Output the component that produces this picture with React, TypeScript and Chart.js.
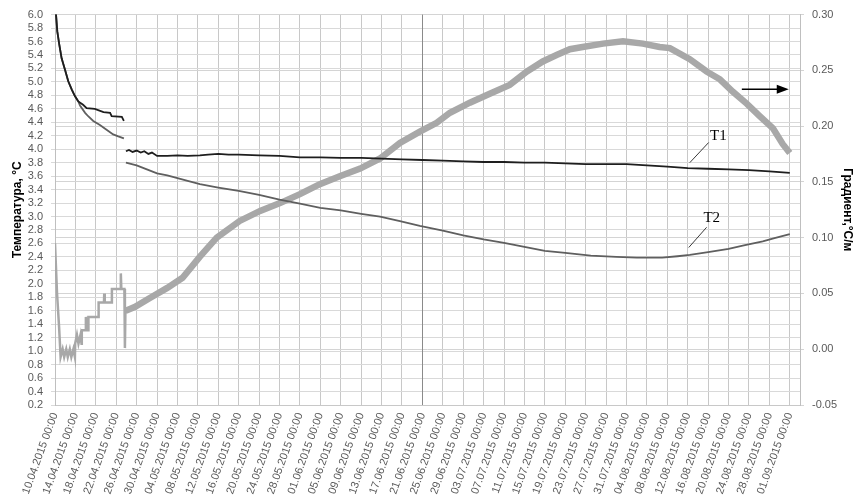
import React, { useEffect, useRef } from "react";
import { Chart, registerables } from "chart.js";

Chart.register(...registerables);

// ---- tick labels (every 4 days from 10.04.2015) ----
const dateLabels = [
  "10.04.2015 00:00", "14.04.2015 00:00", "18.04.2015 00:00", "22.04.2015 00:00",
  "26.04.2015 00:00", "30.04.2015 00:00", "04.05.2015 00:00", "08.05.2015 00:00",
  "12.05.2015 00:00", "16.05.2015 00:00", "20.05.2015 00:00", "24.05.2015 00:00",
  "28.05.2015 00:00", "01.06.2015 00:00", "05.06.2015 00:00", "09.06.2015 00:00",
  "13.06.2015 00:00", "17.06.2015 00:00", "21.06.2015 00:00", "25.06.2015 00:00",
  "29.06.2015 00:00", "03.07.2015 00:00", "07.07.2015 00:00", "11.07.2015 00:00",
  "15.07.2015 00:00", "19.07.2015 00:00", "23.07.2015 00:00", "27.07.2015 00:00",
  "31.07.2015 00:00", "04.08.2015 00:00", "08.08.2015 00:00", "12.08.2015 00:00",
  "16.08.2015 00:00", "20.08.2015 00:00", "24.08.2015 00:00", "28.08.2015 00:00",
  "01.09.2015 00:00",
];
const tickStepDays = 4;
const xMaxDays = 146;
const markedDay = 72; // 21.06.2015

const tempTicks = ["0.2", "0.4", "0.6", "0.8", "1.0", "1.2", "1.4", "1.6", "1.8", "2.0", "2.2", "2.4", "2.6", "2.8", "3.0", "3.2", "3.4", "3.6", "3.8", "4.0", "4.2", "4.4", "4.6", "4.8", "5.0", "5.2", "5.4", "5.6", "5.8", "6.0"];
const gradTicks = ["-0.05", "0.00", "0.05", "0.10", "0.15", "0.20", "0.25", "0.30"];

// ---- T1 (days since 10.04.2015, °C) ----
const t1EarlyDays = [0, 0.2, 0.45, 0.85, 1.3, 1.96, 2.6, 3.27, 3.9, 4.57, 5.5, 6.2, 7.8, 9.5, 10.8, 11.1, 13.1, 13.5];
const t1EarlyValues = [6.4, 6.0, 5.75, 5.55, 5.35, 5.18, 5.01, 4.89, 4.79, 4.71, 4.66, 4.61, 4.6, 4.55, 4.54, 4.49, 4.48, 4.42];
const t1Days = [13.9, 14.5, 15.2, 16, 16.8, 17.5, 18.3, 19, 20, 22, 24, 26, 28.4, 30, 32, 34, 36, 40, 44, 48, 52, 56, 60, 64, 68, 72, 76, 80, 84, 88, 92, 96, 100, 104, 108, 112, 116, 120, 124, 128, 132, 136, 140, 144];
const t1Values = [3.97, 3.99, 3.96, 3.98, 3.95, 3.97, 3.93, 3.95, 3.9, 3.9, 3.91, 3.9, 3.91, 3.92, 3.93, 3.92, 3.92, 3.91, 3.9, 3.88, 3.88, 3.87, 3.87, 3.86, 3.85, 3.84, 3.83, 3.82, 3.81, 3.81, 3.8, 3.8, 3.79, 3.78, 3.78, 3.78, 3.76, 3.74, 3.72, 3.71, 3.7, 3.69, 3.67, 3.65];

// ---- T2 (days since 10.04.2015, °C) ----
const t2EarlyDays = [0, 0.2, 0.45, 0.85, 1.3, 1.96, 2.6, 3.27, 3.9, 4.57, 4.9, 5.9, 6.5, 7.5, 8.8, 10.1, 11.4, 12.4, 13.5];
const t2EarlyValues = [6.4, 6.0, 5.75, 5.55, 5.35, 5.18, 5.01, 4.89, 4.79, 4.71, 4.65, 4.54, 4.49, 4.42, 4.36, 4.29, 4.22, 4.19, 4.16];
const t2Days = [13.9, 16, 18, 20, 22, 24, 26, 28.4, 32, 36, 40, 44, 48, 52, 56, 60, 63.7, 67.6, 71.5, 76, 80, 84, 88, 92, 96, 100, 105, 110, 114, 119, 122, 124.4, 128, 132, 135, 138.7, 141, 144];
const t2Values = [3.8, 3.76, 3.7, 3.64, 3.61, 3.57, 3.53, 3.48, 3.43, 3.38, 3.32, 3.25, 3.19, 3.13, 3.09, 3.04, 3.0, 2.93, 2.86, 2.79, 2.72, 2.66, 2.61, 2.55, 2.49, 2.46, 2.42, 2.4, 2.39, 2.39, 2.41, 2.43, 2.47, 2.52, 2.57, 2.63, 2.68, 2.74];

// ---- Gradient (days since 10.04.2015, °C/m) ----
const gradDays = [0, 0.4, 0.8, 1.1, 1.5, 1.8, 2.2, 2.5, 2.9, 3.2, 3.6, 3.9, 3.95, 4.3, 4.6, 5.0, 5.2, 5.25, 6.0, 6.05, 6.15, 6.5, 6.55, 8.5, 8.55, 9.6, 9.65, 9.75, 11.1, 11.15, 12.8, 12.9, 13.0, 13.6, 13.7, 13.8, 14.1, 15.7, 18.6, 22, 25, 28.4, 31.7, 36.2, 40.2, 44.1, 48, 51.9, 55.8, 59.8, 63.7, 67.6, 71.5, 74.8, 77.4, 81.3, 85.2, 89.1, 92.5, 95.6, 98.4, 100.9, 103.4, 107.4, 111.3, 115.2, 118.5, 120.5, 124.4, 127.7, 130.3, 132.8, 135.6, 138.1, 140.7, 142.6, 144];
const gradValues = [0.095, 0.05, 0.02, -0.007, 0.0, -0.007, 0.0, -0.007, 0.0, -0.007, 0.0, -0.007, 0.005, 0.013, 0.005, 0.013, 0.005, 0.017, 0.017, 0.029, 0.017, 0.017, 0.029, 0.029, 0.042, 0.042, 0.05, 0.042, 0.042, 0.054, 0.054, 0.068, 0.054, 0.054, 0.001, 0.035, 0.035, 0.038, 0.046, 0.055, 0.064, 0.083, 0.1, 0.115, 0.124, 0.131, 0.139, 0.148, 0.155, 0.162, 0.171, 0.185, 0.195, 0.203, 0.212, 0.221, 0.229, 0.237, 0.249, 0.258, 0.264, 0.269, 0.271, 0.274, 0.276, 0.274, 0.271, 0.27, 0.26, 0.249, 0.242, 0.231, 0.22, 0.209, 0.198, 0.184, 0.176];

// ---- annotation anchors (data units) ----
const t1Label = { x: 130, y: 4.19, leadFrom: { x: 124.4, y: 3.8 }, leadTo: { x: 128.1, y: 4.1 } };
const t2Label = { x: 128.7, y: 2.97, leadFrom: { x: 124.2, y: 2.54 }, leadTo: { x: 127.7, y: 2.84 } };
const arrowSpec = { from: 134.6, to: 143.8, level: 0.233 };

const toPts = (days: number[], vals: number[]) => days.map((d, i) => ({ x: d, y: vals[i] }));

const tickFont = { family: "'Liberation Sans', Arial, sans-serif", size: 11 };
const titleFont = { family: "'Liberation Sans', Arial, sans-serif", size: 12, weight: "bold" as const };

const markerLinePlugin = {
  id: "markerLine",
  beforeDatasetsDraw(chart: any) {
    const { ctx, scales, chartArea } = chart;
    const px = Math.round(scales.x.getPixelForValue(markedDay)) + 0.5;
    ctx.save();
    ctx.strokeStyle = "#8a8a8a";
    ctx.lineWidth = 1;
    ctx.beginPath();
    ctx.moveTo(px, chartArea.top);
    ctx.lineTo(px, chartArea.bottom);
    ctx.stroke();
    ctx.restore();
  },
};

const annotationPlugin = {
  id: "annots",
  afterDatasetsDraw(chart: any) {
    const { ctx, scales } = chart;
    const x = scales.x, y = scales.y, y1 = scales.y1;
    ctx.save();
    ctx.strokeStyle = "#3a3a3a";
    ctx.lineWidth = 1;
    for (const l of [t1Label, t2Label]) {
      ctx.beginPath();
      ctx.moveTo(x.getPixelForValue(l.leadFrom.x), y.getPixelForValue(l.leadFrom.y));
      ctx.lineTo(x.getPixelForValue(l.leadTo.x), y.getPixelForValue(l.leadTo.y));
      ctx.stroke();
    }
    ctx.fillStyle = "#000";
    ctx.font = "15px 'Liberation Serif', 'Times New Roman', serif";
    ctx.textAlign = "center";
    ctx.textBaseline = "middle";
    ctx.fillText("T1", x.getPixelForValue(t1Label.x), y.getPixelForValue(t1Label.y));
    ctx.fillText("T2", x.getPixelForValue(t2Label.x), y.getPixelForValue(t2Label.y));
    // arrow
    const ax0 = x.getPixelForValue(arrowSpec.from);
    const ax1 = x.getPixelForValue(arrowSpec.to);
    const ay = y1.getPixelForValue(arrowSpec.level);
    ctx.strokeStyle = "#000";
    ctx.lineWidth = 1.5;
    ctx.beginPath();
    ctx.moveTo(ax0, ay);
    ctx.lineTo(ax1 - 10, ay);
    ctx.stroke();
    ctx.beginPath();
    ctx.moveTo(ax1, ay);
    ctx.lineTo(ax1 - 12, ay - 4.5);
    ctx.lineTo(ax1 - 12, ay + 4.5);
    ctx.closePath();
    ctx.fill();
    ctx.restore();
  },
};

export default function App() {
  const ref = useRef<HTMLCanvasElement>(null);
  useEffect(() => {
    const canvas = ref.current;
    if (!canvas) return;
    const chart = new Chart(canvas, {
      type: "line",
      data: {
        datasets: [
          {
            label: "Градиент",
            data: toPts(gradDays, gradValues),
            yAxisID: "y1",
            borderColor: "#a8a8a8",
            borderWidth: 5,
            pointRadius: 0,
            tension: 0,
            order: 3,
            segment: {
              borderWidth: (c: any) => (c.p0.parsed.x < 13.8 ? 2.5 : 6.5),
            },
          } as any,
          {
            label: "T2",
            data: [...toPts(t2EarlyDays, t2EarlyValues), { x: 13.7, y: null }, ...toPts(t2Days, t2Values)],
            yAxisID: "y",
            borderColor: "#5f5f5f",
            borderWidth: 1.8,
            pointRadius: 0,
            tension: 0,
            spanGaps: false,
            order: 2,
          } as any,
          {
            label: "T1",
            data: [...toPts(t1EarlyDays, t1EarlyValues), { x: 13.7, y: null }, ...toPts(t1Days, t1Values)],
            yAxisID: "y",
            borderColor: "#1e1e1e",
            borderWidth: 1.8,
            pointRadius: 0,
            tension: 0,
            spanGaps: false,
            order: 1,
          } as any,
        ],
      },
      options: {
        responsive: false,
        animation: false,
        events: [],
        layout: { padding: { top: 13, left: 0, right: 0, bottom: 0 } },
        plugins: { legend: { display: false }, tooltip: { enabled: false } },
        scales: {
          x: {
            type: "linear",
            min: 0,
            max: xMaxDays,
            afterBuildTicks: (s: any) => {
              s.ticks = dateLabels.map((_, i) => ({ value: i * tickStepDays }));
            },
            afterFit: (s: any) => {
              s.height = 94;
            },
            grid: { color: "#c8c8c8", drawTicks: false },
            border: { color: "#c8c8c8" },
            ticks: {
              autoSkip: false,
              minRotation: 70,
              maxRotation: 70,
              padding: 6,
              color: "#595959",
              font: tickFont,
              callback: (v: any) => dateLabels[Math.round(Number(v) / tickStepDays)] ?? "",
            },
          },
          y: {
            position: "left",
            min: 0.2,
            max: 6.0,
            afterBuildTicks: (s: any) => {
              s.ticks = tempTicks.map((t) => ({ value: parseFloat(t) }));
            },
            afterFit: (s: any) => {
              s.width = 55;
            },
            grid: { color: "#d9d9d9", tickLength: 4 },
            border: { color: "#bfbfbf" },
            ticks: {
              autoSkip: false,
              padding: 8,
              color: "#595959",
              font: tickFont,
              callback: (v: any, i: number) => tempTicks[i] ?? Number(v).toFixed(1),
            },
            title: {
              display: true,
              text: "Температура, °C",
              color: "#000",
              font: titleFont,
              padding: { top: 10, bottom: 0 },
            },
          },
          y1: {
            position: "right",
            min: -0.05,
            max: 0.3,
            afterBuildTicks: (s: any) => {
              s.ticks = gradTicks.map((t) => ({ value: parseFloat(t) }));
            },
            afterFit: (s: any) => {
              s.width = 63;
            },
            grid: { color: "#d4d4d4", tickLength: 4, drawOnChartArea: true },
            border: { color: "#bfbfbf" },
            ticks: {
              autoSkip: false,
              padding: 8,
              color: "#595959",
              font: tickFont,
              callback: (v: any, i: number) => gradTicks[i] ?? Number(v).toFixed(2),
            },
            title: {
              display: true,
              text: "Градиент,°С/м",
              color: "#000",
              font: titleFont,
              padding: { top: 8, bottom: 0 },
            },
          },
        },
      } as any,
      plugins: [markerLinePlugin, annotationPlugin],
    });
    return () => chart.destroy();
  }, []);
  return (
    <div style={{ position: "fixed", left: 0, top: 0, width: 863, height: 499, background: "#fff" }}>
      <canvas ref={ref} width={863} height={499} style={{ display: "block", width: 863, height: 499 }} />
    </div>
  );
}
